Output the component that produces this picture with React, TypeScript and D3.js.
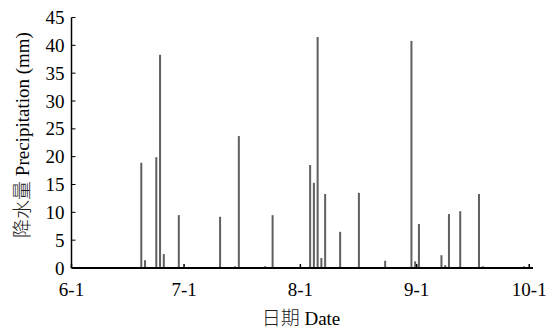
import React from "react";
import * as d3 from "d3";

// Daily precipitation (mm), date as "M-D" in the season
const dates: string[] = [
  "6-19", "6-20", "6-23", "6-24", "6-25", "6-29",
  "7-10", "7-14", "7-15", "7-22", "7-24",
  "8-3", "8-4", "8-5", "8-6", "8-7", "8-11", "8-16", "8-23", "8-30", "8-31",
  "9-1", "9-7", "9-8", "9-9", "9-12", "9-17", "9-18", "9-29",
];
const precip: number[] = [
  18.9, 1.4, 19.9, 38.3, 2.5, 9.5,
  9.2, 0.3, 23.7, 0.3, 9.5,
  18.5, 15.3, 41.5, 1.8, 13.3, 6.5, 13.5, 1.3, 40.8, 1.2,
  7.9, 2.3, 0.5, 9.7, 10.2, 13.3, 0.3, 0.3,
];
const xTickLabels: string[] = ["6-1", "7-1", "8-1", "9-1", "10-1"];
const yTicks: number[] = [0, 5, 10, 15, 20, 25, 30, 35, 40, 45];

const YEAR = 2020;
const parse = (s: string) => {
  const [m, d] = s.split("-").map(Number);
  return new Date(YEAR, m - 1, d);
};

export default function App() {
  const W = 550, H = 329;
  const left = 71.5, right = 533, top = 17.5, bottom = 268;
  const x = d3.scaleTime().domain([new Date(YEAR, 5, 1), new Date(YEAR, 9, 2)]).range([left, right]);
  const y = d3.scaleLinear().domain([0, 45]).range([bottom, top]);
  const dayW = x(new Date(YEAR, 5, 2)) - x(new Date(YEAR, 5, 1));
  const font = '"Liberation Serif", "Times New Roman", serif';
  const cjk = '"Noto Sans CJK SC", sans-serif';
  const fs = 19;
  const barW = 2;

  return (
    <svg width={W} height={H} style={{ position: "absolute", left: 0, top: 0, background: "#fff" }}>
      {/* bars */}
      {dates.map((ds, i) => {
        const cx = x(parse(ds)) + dayW * 0.6;
        return (
          <rect key={ds} x={cx - barW / 2} y={y(precip[i])} width={barW} height={bottom - y(precip[i])} fill="#606060" />
        );
      })}
      {/* y axis */}
      <line x1={left} x2={left} y1={top} y2={bottom} stroke="#000" strokeWidth={1.5} />
      {yTicks.map((t) => (
        <g key={t}>
          <line x1={left} x2={left + 4} y1={y(t)} y2={y(t)} stroke="#000" strokeWidth={1} />
          <text x={left - 7} y={y(t)} dy="0.35em" textAnchor="end" fontFamily={font} fontSize={fs} fill="#000">{t}</text>
        </g>
      ))}
      {/* x axis */}
      <line x1={left} x2={right} y1={bottom} y2={bottom} stroke="#000" strokeWidth={1.8} />
      {xTickLabels.map((lab) => {
        const tx = x(parse(lab));
        return (
          <g key={lab}>
            <line x1={tx} x2={tx} y1={bottom} y2={bottom - 4} stroke="#000" strokeWidth={1.5} />
            <text x={tx} y={296} textAnchor="middle" fontFamily={font} fontSize={fs} fill="#000">{lab}</text>
          </g>
        );
      })}
      {/* titles */}
      <text x={301} y={325} textAnchor="middle" fontFamily={font} fontSize={fs} fill="#000">
        <tspan fontFamily={cjk} fontWeight={300} fill="#222">日期</tspan> Date
      </text>
      <text transform={`translate(29,${135}) rotate(-90)`} textAnchor="middle" fontFamily={font} fontSize={fs} fill="#000">
        <tspan fontFamily={cjk} fontWeight={300} fill="#222">降水量</tspan> Precipitation (mm)
      </text>
    </svg>
  );
}
